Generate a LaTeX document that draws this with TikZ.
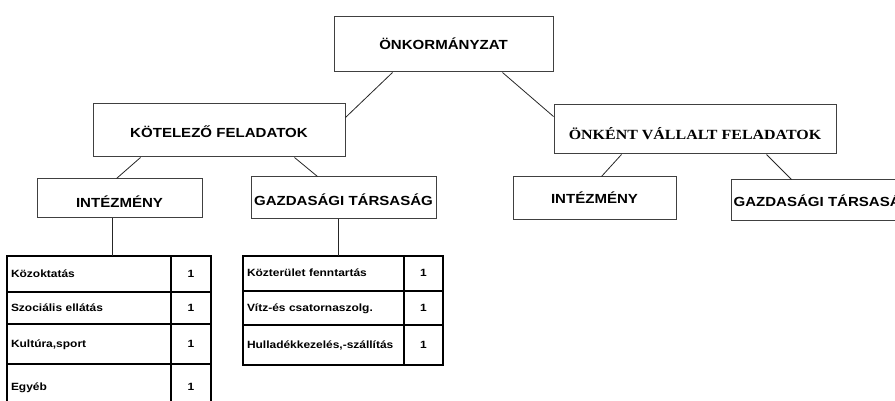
\documentclass[tikz,border=0pt]{standalone}
\usepackage{fontspec}
\setmainfont{Liberation Sans}[FakeStretch=1.14]
\newfontfamily\serifb{Liberation Serif}[FakeStretch=1.14]
\usetikzlibrary{calc}

\begin{document}
\begin{tikzpicture} [
  x=1pt, y=-1pt,
  box/.style={
    draw=black!75, line width=1pt, fill=white, inner sep=0pt,
    font=\fontsize{13.2}{15}\selectfont\bfseries, text depth=0pt, text height=15pt
  },
  link/.style={draw=black!85, line width=0.8pt},
  cell/.style={
    draw, line width=2.4pt, anchor=north west, inner xsep=4pt, inner ysep=0pt, outer sep=0pt,
    font=\fontsize{10.5}{12}\selectfont\bfseries, text height=7.5pt, text depth=1.5pt
  },
  item/.style={cell, align=left, text width=#1},
  num/.style={cell, align=center, minimum width=40pt}
  ]
  \useasboundingbox (0,0) rectangle (895,401);
  \clip (0,0) rectangle (895,401);

  % boxes
  \node(root)[box, minimum width=219pt, minimum height=55pt, text height=11pt] at (443.5,44.5) {ÖNKORMÁNYZAT};
  \node(kot)[box, minimum width=252pt, minimum height=53pt] at (219,130.5) {KÖTELEZŐ FELADATOK};
  \node(onk)[box, minimum width=282pt, minimum height=49pt, font=\fontsize{14}{16}\serifb\bfseries, text height=21pt] at (695,129.5) {ÖNKÉNT VÁLLALT FELADATOK};
  \node(int1)[box, minimum width=165pt, minimum height=39pt, text height=18pt] at (119.5,198.5) {INTÉZMÉNY};
  \node(gaz1)[box, minimum width=185pt, minimum height=42pt] at (343.5,198) {GAZDASÁGI TÁRSASÁG};
  \node(int2)[box, minimum width=163pt, minimum height=43pt, text height=10pt] at (594.5,198.5) {INTÉZMÉNY};
  \node(gaz2)[box, minimum width=184pt, minimum height=41pt, text height=12pt] at (823,200.5) {GAZDASÁGI TÁRSASÁG};

  % left table
  \node(k1)[item=156pt, minimum height=36pt] at (7,256) {Közoktatás};
  \node(k2)[item=156pt, minimum height=32pt] at (k1.south west) {Szociális ellátás};
  \node(k3)[item=156pt, minimum height=40pt] at (k2.south west) {Kultúra,sport};
  \node(k4)[item=156pt, minimum height=46pt] at (k3.south west) {Egyéb};
  \node(n1)[num, minimum height=36pt] at (k1.north east) {1};
  \node(n2)[num, minimum height=32pt] at (k2.north east) {1};
  \node(n3)[num, minimum height=40pt] at (k3.north east) {1};
  \node(n4)[num, minimum height=46pt] at (k4.north east) {1};

  % right table
  \node(g1)[item=153pt, minimum height=35pt] at (243,256) {Közterület fenntartás};
  \node(g2)[item=153pt, minimum height=34pt] at (g1.south west) {Vítz-és csatornaszolg.};
  \node(g3)[item=153pt, minimum height=40pt] at (g2.south west) {Hulladékkezelés,-szállítás};
  \node(m1)[num, minimum width=39pt, minimum height=35pt] at (g1.north east) {1};
  \node(m2)[num, minimum width=39pt, minimum height=34pt] at (g2.north east) {1};
  \node(m3)[num, minimum width=39pt, minimum height=40pt] at (g3.north east) {1};

  \coordinate (a) at ([xshift=-7.5pt]int1.south);
  \coordinate (b) at ([xshift=-5.5pt]gaz1.south);
  \begin{scope}[link]
    \draw ([xshift=59pt]root.south west) -- ([yshift=-14pt]kot.north east);
    \draw ([xshift=169pt]root.south west) -- ([yshift=-12pt]onk.north west);
    \draw ([xshift=48pt]kot.south west) -- ([xshift=80pt]int1.north west);
    \draw ([xshift=202pt]kot.south west) -- ([xshift=67pt]gaz1.north west);
    \draw ([xshift=68pt]onk.south west) -- ([xshift=89pt]int2.north west);
    \draw ([xshift=213pt]onk.south west) -- ([xshift=61pt]gaz2.north west);
    \draw (a) -- (a |- k1.north);
    \draw (b) -- (b |- g1.north);
  \end{scope}
\end{tikzpicture}
\end{document}
